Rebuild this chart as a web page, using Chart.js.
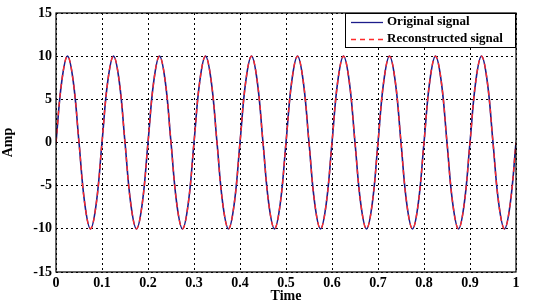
<!DOCTYPE html>
<html>
<head>
<meta charset="utf-8">
<script src="https://cdn.jsdelivr.net/npm/chart.js@4"></script>
<style>
  html, body { margin: 0; padding: 0; background: #fff; }
  #wrap { width: 536px; height: 305px; position: relative; }
</style>
</head>
<body>
<div id="wrap"><canvas id="sig"></canvas></div>
<script>
const TIME_STEP = 0.0125;
const ORIGINAL = [
  0, 7.07, 10, 7.07, 0, -7.07, -10, -7.07,
  0, 7.07, 10, 7.07, 0, -7.07, -10, -7.07,
  0, 7.07, 10, 7.07, 0, -7.07, -10, -7.07,
  0, 7.07, 10, 7.07, 0, -7.07, -10, -7.07,
  0, 7.07, 10, 7.07, 0, -7.07, -10, -7.07,
  0, 7.07, 10, 7.07, 0, -7.07, -10, -7.07,
  0, 7.07, 10, 7.07, 0, -7.07, -10, -7.07,
  0, 7.07, 10, 7.07, 0, -7.07, -10, -7.07,
  0, 7.07, 10, 7.07, 0, -7.07, -10, -7.07,
  0, 7.07, 10, 7.07, 0, -7.07, -10, -7.07,
  0
];
const RECONSTRUCTED = [
  0, 7.07, 10, 7.07, 0, -7.07, -10, -7.07,
  0, 7.07, 10, 7.07, 0, -7.07, -10, -7.07,
  0, 7.07, 10, 7.07, 0, -7.07, -10, -7.07,
  0, 7.07, 10, 7.07, 0, -7.07, -10, -7.07,
  0, 7.07, 10, 7.07, 0, -7.07, -10, -7.07,
  0, 7.07, 10, 7.07, 0, -7.07, -10, -7.07,
  0, 7.07, 10, 7.07, 0, -7.07, -10, -7.07,
  0, 7.07, 10, 7.07, 0, -7.07, -10, -7.07,
  0, 7.07, 10, 7.07, 0, -7.07, -10, -7.07,
  0, 7.07, 10, 7.07, 0, -7.07, -10, -7.07,
  0
];
const SERIES_NAMES = ['Original signal', 'Reconstructed signal'];
const X_TICKS = [0, 0.1, 0.2, 0.3, 0.4, 0.5, 0.6, 0.7, 0.8, 0.9, 1];
const Y_TICKS = [-15, -10, -5, 0, 5, 10, 15];

const COLORS = { orig: '#1c1c8a', recon: '#ff2a2a' };
const FONT = { family: "'Liberation Serif', 'DejaVu Serif', serif", weight: 'bold', size: 14 };

const toPoints = arr => arr.map((v, i) => ({ x: i * TIME_STEP, y: v }));

// box + legend drawn on top of the plot, MATLAB style
const boxLegend = {
  id: 'boxLegend',
  afterDraw(chart) {
    const { ctx, chartArea: a } = chart;
    ctx.save();
    ctx.strokeStyle = '#000';
    ctx.lineWidth = 1.2;
    ctx.setLineDash([]);
    ctx.strokeRect(a.left, a.top, a.right - a.left, a.bottom - a.top);

    // legend
    const lx = 345, ly = 13, lw = a.right - 345, lh = 34;
    ctx.fillStyle = '#fff';
    ctx.fillRect(lx, ly, lw, lh);
    ctx.lineWidth = 1;
    ctx.strokeRect(lx + 0.5, ly + 0.5, lw - 1, lh);
    ctx.font = `bold 13px ${FONT.family}`;
    ctx.textBaseline = 'middle';
    ctx.fillStyle = '#000';
    ctx.lineWidth = 1.3;
    ctx.strokeStyle = COLORS.orig;
    ctx.beginPath(); ctx.moveTo(351, 22.5); ctx.lineTo(383, 22.5); ctx.stroke();
    ctx.fillText(SERIES_NAMES[0], 387, 22);
    ctx.strokeStyle = COLORS.recon;
    ctx.setLineDash([5, 4]);
    ctx.beginPath(); ctx.moveTo(351, 39.5); ctx.lineTo(383, 39.5); ctx.stroke();
    ctx.setLineDash([]);
    ctx.fillText(SERIES_NAMES[1], 387, 39);
    ctx.restore();
  }
};

new Chart(document.getElementById('sig'), {
  type: 'line',
  data: {
    datasets: [
      { label: SERIES_NAMES[0], data: toPoints(ORIGINAL), borderColor: COLORS.orig, borderWidth: 1.6, pointRadius: 0, tension: 0.4, fill: false, order: 2 },
      { label: SERIES_NAMES[1], data: toPoints(RECONSTRUCTED), borderColor: COLORS.recon, borderWidth: 1.4, borderDash: [5, 4], pointRadius: 0, tension: 0.4, fill: false, order: 1 }
    ]
  },
  options: {
    responsive: true, maintainAspectRatio: false, animation: false,
    layout: { padding: { top: 13, right: 20, left: 0, bottom: 0 } },
    plugins: { legend: { display: false }, tooltip: { enabled: false } },
    scales: {
      x: {
        type: 'linear', min: 0, max: 1,
        afterBuildTicks: s => { s.ticks = X_TICKS.map(v => ({ value: v })); },
        afterFit: s => { s.height = 33; },
        grid: { color: '#000', lineWidth: 1, drawTicks: false },
        border: { display: false, dash: [2, 3] },
        ticks: { color: '#000', font: FONT, padding: 3, maxRotation: 0, callback: v => String(v) },
        title: { display: true, text: 'Time', color: '#000', font: FONT, padding: { top: -4, bottom: 0 } }
      },
      y: {
        min: -15, max: 15,
        afterBuildTicks: s => { s.ticks = Y_TICKS.map(v => ({ value: v })); },
        afterFit: s => { s.width = 56; },
        grid: { color: '#000', lineWidth: 1, drawTicks: false },
        border: { display: false, dash: [2, 3] },
        ticks: { color: '#000', font: FONT, padding: 4 },
        title: { display: true, text: 'Amp', color: '#000', font: FONT, padding: { top: 0, bottom: 4 } }
      }
    }
  },
  plugins: [boxLegend]
});
</script>
</body>
</html>
